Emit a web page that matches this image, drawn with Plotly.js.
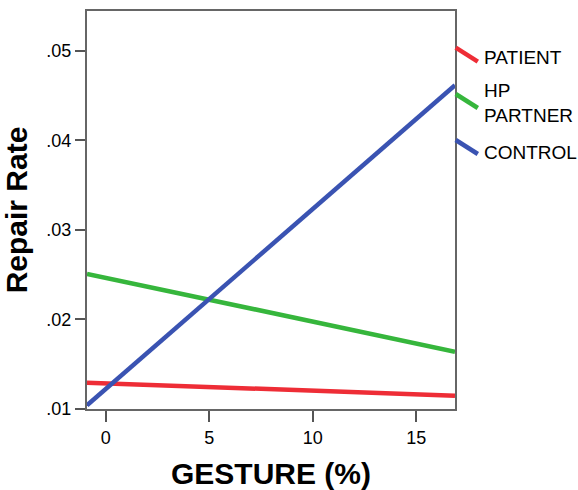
<!DOCTYPE html>
<html>
<head>
<meta charset="utf-8">
<script src="https://cdn.plot.ly/plotly-3.0.1.min.js"></script>
<style>html,body{margin:0;padding:0;background:#fff;}#chart{width:578px;height:490px;}</style>
</head>
<body>
<div id="chart"></div>
<script>
// Data (fitted lines, endpoints at axis limits)
const gestureX = [-0.9, 16.87];
const patient = [0.01294, 0.01148];
const hpPartner = [0.0251, 0.0164];
const control = [0.01041, 0.04616];
const seriesNames = ["PATIENT", "HP<br>PARTNER", "CONTROL"];
const seriesColors = ["#ee2d36", "#36b63c", "#3a53b2"];
const xTicks = [0, 5, 10, 15];
const yTicks = [0.01, 0.02, 0.03, 0.04, 0.05];
const yTickText = [".01", ".02", ".03", ".04", ".05"];

const seriesVals = [patient, hpPartner, control];
const traces = seriesVals.map((v, i) => ({
  x: gestureX, y: v, type: "scatter", mode: "lines",
  line: {color: seriesColors[i], width: 4.5},
  name: seriesNames[i], showlegend: false, hoverinfo: "skip"
}));

// Legend keys: short slanted segments outside the right edge (paper coords)
const keyY = [[0.9078, 0.8726], [0.7915, 0.7563], [0.6759, 0.6407]];
const labelY = [0.882, 0.7676, 0.6457];
const shapes = keyY.map((k, i) => ({
  type: "line", xref: "paper", yref: "paper",
  x0: 1.002, y0: k[0], x1: 1.062, y1: k[1],
  line: {color: seriesColors[i], width: 4.5}
}));
const annotations = seriesNames.map((n, i) => ({
  text: n, xref: "paper", yref: "paper", x: 1.074, y: labelY[i],
  xanchor: "left", yanchor: "middle", align: "left", showarrow: false,
  font: {family: "Liberation Sans, Arial, sans-serif", size: 19, color: "#000"}
}));

const layout = {
  width: 578, height: 490,
  margin: {l: 87, r: 123, t: 11, b: 81},
  paper_bgcolor: "#fff", plot_bgcolor: "#fff",
  showlegend: false,
  font: {family: "Liberation Sans, Arial, sans-serif", color: "#000"},
  xaxis: {
    range: [gestureX[0], gestureX[1]],
    tickvals: xTicks, ticktext: xTicks.map(String),
    ticks: "outside", ticklen: 11, tickwidth: 2, tickcolor: "#555",
    showline: true, linecolor: "#666", linewidth: 2, mirror: true,
    showgrid: false, zeroline: false,
    tickfont: {size: 18, color: "#000"},
    title: {text: "<b>GESTURE (%)</b>", font: {size: 30, color: "#000"}, standoff: 18}
  },
  yaxis: {
    range: [0.01, 0.05446],
    tickvals: yTicks, ticktext: yTickText,
    ticks: "outside", ticklen: 10, tickwidth: 2, tickcolor: "#555",
    showline: true, linecolor: "#666", linewidth: 2, mirror: true,
    showgrid: false, zeroline: false,
    tickfont: {size: 18, color: "#000"},
    title: {text: "<b>Repair Rate</b>", font: {size: 30, color: "#000"}, standoff: 10}
  },
  shapes: shapes,
  annotations: annotations
};

Plotly.newPlot("chart", traces, layout, {displayModeBar: false, staticPlot: true});
</script>
</body>
</html>
